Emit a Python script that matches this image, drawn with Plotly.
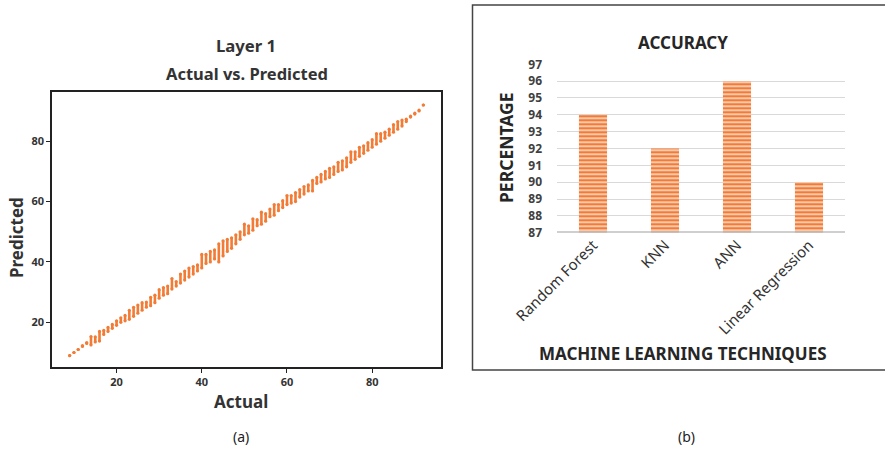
import plotly.graph_objects as go

# ---------------- data ----------------
actual = list(range(9, 93))
pred_low = [9, 10, 11, 12, 13, 12.5, 13.5, 13.8, 16, 17, 18, 19, 20, 20.5, 21, 22, 23, 24, 25, 25.5,
            26.5, 28, 29, 29.5, 31, 32, 33, 34, 35, 36, 37, 38, 39.5, 40, 41, 40, 42, 43.5, 44.5, 46,
            47.5, 49, 49.5, 50.5, 52, 52.5, 53.5, 55, 55.5, 57, 58, 59, 59.5, 60, 61.5, 62.5, 63.5, 63.5, 66, 66.5,
            67.5, 68, 69, 70, 70.5, 71.5, 73, 74, 75, 76, 77, 78, 79, 80, 81, 82, 83, 84, 85, 86.5,
            88, 89, 90, 92]
pred_high = [9, 10, 11, 12.3, 13.3, 15.3, 15.2, 17, 17.3, 18.3, 19.3, 20.5, 21.5, 22.3, 24, 25, 25.7, 26.5, 26.7, 28.3,
             29, 30.8, 31.5, 32, 34.5, 33.5, 36, 37, 38, 38.5, 39, 42.5, 42.5, 43.5, 44, 46, 47, 47.5, 48, 49,
             50, 52.5, 52, 54.3, 54, 56.5, 56, 57.5, 59, 59, 60.3, 62, 62, 63, 64, 65, 65.5, 67, 68, 69,
             70, 71, 71.5, 73, 73.5, 74.5, 76.5, 76.5, 78, 78.5, 79.5, 80.5, 82.5, 82.5, 83, 84, 85.5, 86.5, 87, 87.3,
             88.3, 89.3, 90.3, 92]

techniques = ["Random Forest", "KNN", "ANN", "Linear Regression"]
accuracy = [94, 92, 96, 90]
acc_ticks = list(range(87, 98))

ORANGE = "#F27B35"
W, H = 885, 449

# build vertical segments from the low/high lists
seg_x, seg_y = [], []
for a, lo, hi in zip(actual, pred_low, pred_high):
    seg_x += [a, a, None]
    seg_y += [lo, hi, None]

fig = go.Figure()
fig.add_trace(go.Scatter(
    x=seg_x, y=seg_y, mode="lines+markers", connectgaps=False,
    line=dict(color=ORANGE, width=2.6),
    marker=dict(color=ORANGE, size=3.2),
    xaxis="x", yaxis="y", showlegend=False, hoverinfo="skip"))

fig.add_trace(go.Bar(
    x=techniques, y=[v - 87 for v in accuracy], base=87,
    marker=dict(color=ORANGE, line=dict(width=0),
                pattern=dict(shape="-", size=4, solidity=0.3, fgopacity=1,
                             fgcolor="white", bgcolor=ORANGE, fillmode="replace")),
    width=0.39, xaxis="x2", yaxis="y2", showlegend=False, hoverinfo="skip"))

def px_x(p):
    return p / W

def px_y(p):
    return 1 - p / H

TXT = "#333333"
FONT = "Noto Sans"

fig.update_layout(
    template="none",
    width=W, height=H, margin=dict(l=0, r=0, t=0, b=0, autoexpand=False),
    paper_bgcolor="white", plot_bgcolor="white",
    font=dict(family=FONT, color=TXT),
    xaxis=dict(domain=[px_x(52), px_x(441)], range=[4.85, 96.15], automargin=False,
               tickvals=[20, 40, 60, 80], showgrid=False, zeroline=False,
               showline=True, linecolor="#222", linewidth=1.5, mirror=True,
               ticks="outside", ticklen=4, tickcolor="#222",
               tickfont=dict(size=11, color=TXT, family=FONT, weight="bold"), anchor="y"),
    yaxis=dict(domain=[px_y(367), px_y(92)], range=[5.2, 96.3], automargin=False,
               tickvals=[20, 40, 60, 80], showgrid=False, zeroline=False,
               showline=True, linecolor="#222", linewidth=1.5, mirror=True,
               ticks="outside", ticklen=4, tickcolor="#222",
               tickfont=dict(size=11, color=TXT, family=FONT, weight="bold"), anchor="x"),
    xaxis2=dict(domain=[px_x(557), px_x(845)], range=[-0.5, 3.5], automargin=False,
                showgrid=False, zeroline=False, showline=False,
                ticks="", tickangle=-45,
                tickfont=dict(size=15, color="#333333", family=FONT), anchor="y2"),
    yaxis2=dict(domain=[px_y(232.7), px_y(64.3)], range=[87, 97], automargin=False,
                tickvals=acc_ticks, showgrid=True, gridcolor="#D9D9D9", gridwidth=1,
                zeroline=False, showline=False, ticks="", ticklabelstandoff=14,
                tickfont=dict(size=12, color="#404040", family=FONT, weight="bold"), anchor="x2"),
    bargap=0.6,
)

shapes = [
    # baseline at 87
    dict(type="line", xref="x2 domain", yref="y2", x0=0, x1=1, y0=87, y1=87,
         line=dict(color="#BFBFBF", width=3), layer="above"),
    # frame around right panel
    dict(type="rect", xref="paper", yref="paper", x0=px_x(472.5), x1=px_x(890),
         y0=px_y(370), y1=px_y(5), line=dict(color="#444", width=1.5)),
]
fig.update_layout(shapes=shapes)

ann = [
    dict(text="<b>Layer 1</b>", x=px_x(246), y=px_y(45), font=dict(size=16.7, color=TXT)),
    dict(text="<b>Actual vs. Predicted</b>", x=px_x(247), y=px_y(74), font=dict(size=16.5, color=TXT)),
    dict(text="<b>Actual</b>", x=px_x(241), y=px_y(401), font=dict(size=17, color=TXT)),
    dict(text="<b>Predicted</b>", x=px_x(16), y=px_y(238), textangle=-90, font=dict(size=17, color=TXT)),
    dict(text="<b>ACCURACY</b>", x=px_x(683), y=px_y(42), font=dict(size=17, color="#262626")),
    dict(text="<b>PERCENTAGE</b>", x=px_x(506), y=px_y(148), textangle=-90, font=dict(size=17.5, color="#262626")),
    dict(text="<b>MACHINE LEARNING TECHNIQUES</b>", x=px_x(683), y=px_y(353), font=dict(size=17, color="#262626")),
    dict(text="(a)", x=px_x(241), y=px_y(436), font=dict(size=14, color="#222")),
    dict(text="(b)", x=px_x(686), y=px_y(436), font=dict(size=14, color="#222")),
]
for a in ann:
    a.update(xref="paper", yref="paper", showarrow=False, xanchor="center", yanchor="middle")
fig.update_layout(annotations=ann)

fig.write_html("out.html", config={"displayModeBar": False},
               post_script="document.body.style.margin='0';document.body.style.padding='0';document.body.style.overflow='hidden';")
